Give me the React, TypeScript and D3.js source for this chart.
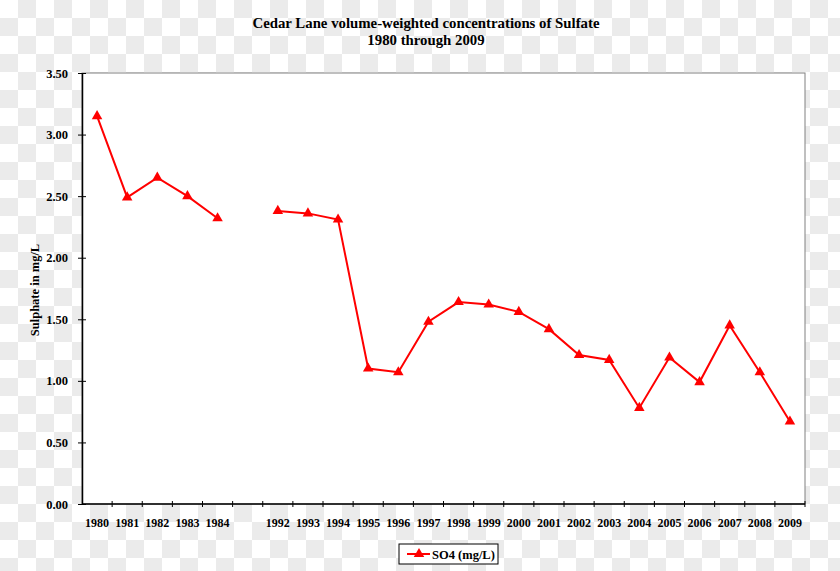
import { useEffect, useRef } from 'react';
import * as d3 from 'd3';

const years = ['1980', '1981', '1982', '1983', '1984', '', '1992', '1993', '1994', '1995', '1996', '1997', '1998', '1999', '2000', '2001', '2002', '2003', '2004', '2005', '2006', '2007', '2008', '2009'];
const so4Values: (number | null)[] = [3.15, 2.49, 2.65, 2.50, 2.32, null, 2.38, 2.36, 2.31, 1.10, 1.07, 1.48, 1.64, 1.62, 1.56, 1.42, 1.21, 1.17, 0.78, 1.19, 0.99, 1.45, 1.07, 0.67];
const yTicks = [0, 0.5, 1, 1.5, 2, 2.5, 3, 3.5];
const titleLines = ['Cedar Lane volume-weighted concentrations  of Sulfate', '1980 through 2009'];
const seriesName = 'SO4 (mg/L)';

export default function App() {
  const svgRef = useRef<SVGSVGElement>(null);
  const width = 840;
  const height = 571;

  useEffect(() => {
    if (!svgRef.current) return;
    const svg = d3.select(svgRef.current);
    svg.selectAll('*').remove();

    const margin = { top: 73, right: 35, bottom: 67, left: 82 };
    const innerWidth = width - margin.left - margin.right;
    const innerHeight = height - margin.top - margin.bottom;
    const font = '"Liberation Serif", "Times New Roman", serif';
    const red = '#ff0000';

    // checkerboard backdrop
    const defs = svg.append('defs');
    const pat = defs.append('pattern')
      .attr('id', 'checker')
      .attr('width', 36)
      .attr('height', 36)
      .attr('patternUnits', 'userSpaceOnUse');
    pat.append('rect').attr('width', 36).attr('height', 36).attr('fill', '#ffffff');
    pat.append('rect').attr('x', 18).attr('width', 18).attr('height', 18).attr('fill', '#ebebeb');
    pat.append('rect').attr('y', 18).attr('width', 18).attr('height', 18).attr('fill', '#ebebeb');
    svg.append('rect').attr('width', width).attr('height', height).attr('fill', 'url(#checker)');

    // Scales
    const x = d3.scaleBand().domain(years.map((d, i) => d + '#' + i)).range([0, innerWidth]);
    const y = d3.scaleLinear().domain([0, 3.5]).range([innerHeight, 0]);

    const g = svg.append('g').attr('transform', `translate(${margin.left}, ${margin.top})`);

    g.append('rect')
      .attr('width', innerWidth)
      .attr('height', innerHeight)
      .attr('fill', '#ffffff')
      .attr('stroke', '#808080')
      .attr('stroke-width', 1);

    // Title
    titleLines.forEach((t, i) => {
      svg.append('text')
        .attr('x', width / 2 + 6)
        .attr('y', 28 + i * 17)
        .attr('text-anchor', 'middle')
        .attr('font-family', font)
        .attr('font-weight', 'bold')
        .attr('font-size', 14.8)
        .text(t);
    });

    // Y Axis
    const yAxis = g.append('g')
      .call(d3.axisLeft(y).tickValues(yTicks).tickFormat(d3.format('.2f')).tickSizeInner(4).tickSizeOuter(0).tickPadding(10));
    yAxis.select('.domain').attr('stroke', '#000').attr('stroke-width', 1.5);
    yAxis.selectAll('.tick line').attr('x2', 4).attr('x1', -4).attr('stroke', '#000');
    yAxis.selectAll('text')
      .attr('font-family', font)
      .attr('font-weight', 'bold')
      .attr('font-size', 12.5)
      .attr('fill', '#000');

    // X Axis with ticks on category boundaries
    const xg = g.append('g').attr('transform', `translate(0, ${innerHeight})`);
    xg.append('line')
      .attr('x1', 0).attr('x2', innerWidth)
      .attr('stroke', '#000').attr('stroke-width', 1.5);
    const bw = x.bandwidth();
    xg.selectAll('line.tk')
      .data(years)
      .enter()
      .append('line')
      .attr('class', 'tk')
      .attr('x1', (d, i) => (x(d + '#' + i) || 0) + bw)
      .attr('x2', (d, i) => (x(d + '#' + i) || 0) + bw)
      .attr('y1', -3)
      .attr('y2', 3)
      .attr('stroke', '#000');
    xg.selectAll('text')
      .data(years)
      .enter()
      .append('text')
      .attr('x', (d, i) => (x(d + '#' + i) || 0) + bw / 2)
      .attr('y', 23)
      .attr('text-anchor', 'middle')
      .attr('font-family', font)
      .attr('font-weight', 'bold')
      .attr('font-size', 12)
      .text(d => d);

    // Y label
    svg.append('text')
      .attr('transform', `translate(39, 290) rotate(-90)`)
      .attr('text-anchor', 'middle')
      .attr('font-family', font)
      .attr('font-weight', 'bold')
      .attr('font-size', 12.5)
      .text('Sulphate in mg/L');

    // Line
    const pts = years.map((d, i) => ({ key: d + '#' + i, v: so4Values[i] }));
    const line = d3.line<{ key: string; v: number | null }>()
      .defined(d => d.v !== null)
      .x(d => (x(d.key) || 0) + bw / 2)
      .y(d => y(d.v as number));
    g.append('path')
      .datum(pts)
      .attr('d', line)
      .attr('fill', 'none')
      .attr('stroke', red)
      .attr('stroke-width', 2);

    const tri = d3.symbol().type(d3.symbolTriangle).size(48);
    g.selectAll('path.mk')
      .data(pts.filter(p => p.v !== null))
      .enter()
      .append('path')
      .attr('class', 'mk')
      .attr('d', tri)
      .attr('transform', d => `translate(${(x(d.key) || 0) + bw / 2}, ${y(d.v as number)})`)
      .attr('fill', red);

    // Legend
    const lg = svg.append('g').attr('transform', 'translate(399, 544)');
    lg.append('rect')
      .attr('width', 99)
      .attr('height', 20)
      .attr('fill', '#ffffff')
      .attr('stroke', '#000')
      .attr('stroke-width', 1);
    lg.append('line')
      .attr('x1', 8).attr('x2', 31).attr('y1', 10).attr('y2', 10)
      .attr('stroke', red).attr('stroke-width', 2);
    lg.append('path')
      .attr('d', tri)
      .attr('transform', 'translate(20, 10)')
      .attr('fill', red);
    lg.append('text')
      .attr('x', 33)
      .attr('y', 14.5)
      .attr('font-family', font)
      .attr('font-weight', 'bold')
      .attr('font-size', 12.5)
      .text(seriesName);
  }, []);

  return (
    <div style={{ position: 'absolute', left: 0, top: 0 }}>
      <svg ref={svgRef} width={width} height={height} style={{ display: 'block' }}></svg>
    </div>
  );
}
